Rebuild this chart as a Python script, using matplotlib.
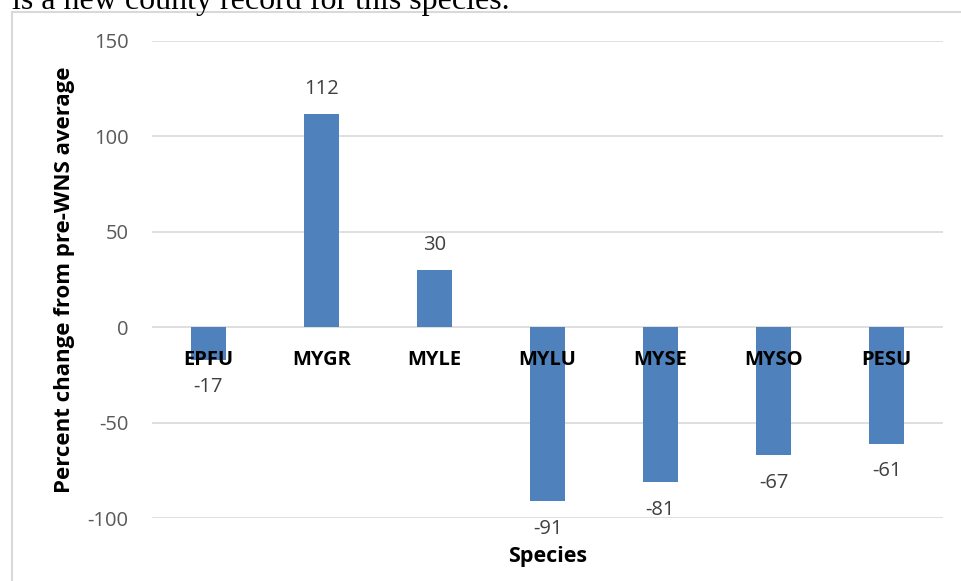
import matplotlib.pyplot as plt
from matplotlib.patches import Rectangle

species = ['EPFU', 'MYGR', 'MYLE', 'MYLU', 'MYSE', 'MYSO', 'PESU']
pct_change = [-17, 112, 30, -91, -81, -67, -61]
y_ticks = [-100, -50, 0, 50, 100, 150]

plt.rcParams['font.family'] = ['Open Sans', 'DejaVu Sans']

fig = plt.figure(figsize=(9.61, 5.81), dpi=100)
W, H = 961, 581
ax = fig.add_axes([152 / W, 1 - 518 / H, (943 - 152) / W, (518 - 41) / H])

# chart frame (Excel chart area border)
fig.patches.append(Rectangle((12 / W, -0.1), 1.2, 1 - 12 / H + 0.1,
                             transform=fig.transFigure, fill=False,
                             edgecolor='#d9d9d9', linewidth=1.5))

# caption fragment cut off at the top
fig.text(12 / W, 1 - 9 / H, 'is a new county record for this species.',
         family='Liberation Serif', fontsize=23, va='baseline', ha='left')

x = range(len(species))
ax.bar(x, pct_change, width=0.31, color='#4f81bd', zorder=2)

ax.set_xlim(-0.5, len(species) - 0.5)
ax.set_ylim(-100, 150)
ax.set_yticks(y_ticks)
ax.set_yticklabels([str(v) for v in y_ticks], fontsize=14.5, color='#595959')
ax.tick_params(axis='y', length=0, pad=17)
ax.set_xticks([])
ax.grid(axis='y', color='#d9d9d9', linewidth=1.2, zorder=0)
for s in ax.spines.values():
    s.set_visible(False)

for i, (name, v) in enumerate(zip(species, pct_change)):
    ax.annotate(name, (i, 0), xytext=(0, -27), textcoords='offset points',
                ha='center', va='baseline', fontsize=14.5, fontweight='bold',
                color='black', zorder=3, annotation_clip=False)
    off = 18 if v > 0 else -20
    ax.annotate(str(v), (i, v), xytext=(0, off), textcoords='offset points',
                ha='center', va='center', fontsize=14.5, color='#404040',
                annotation_clip=False)

ax.set_ylabel('Percent change from pre-WNS average', fontsize=16,
              fontweight='bold', labelpad=9)
ax.set_xlabel('Species', fontsize=15.5, fontweight='bold', labelpad=20)

fig.savefig('out.png', dpi=100)
